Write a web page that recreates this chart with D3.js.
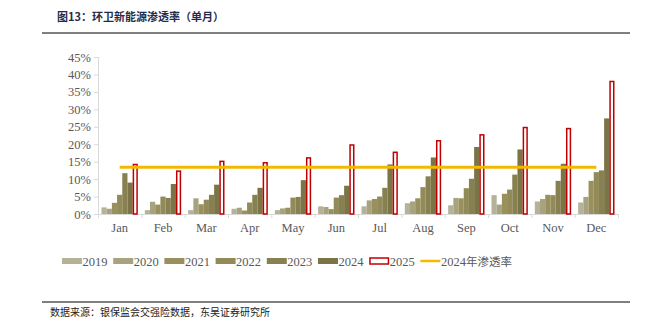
<!DOCTYPE html>
<html><head><meta charset="utf-8">
<script src="https://cdn.jsdelivr.net/npm/d3@7"></script>
<style>
body{margin:0;background:#fff;}
svg{display:block;}
</style></head>
<body>
<svg id="c" width="671" height="328"></svg>
<script>
const months = ["Jan","Feb","Mar","Apr","May","Jun","Jul","Aug","Sep","Oct","Nov","Dec"];
const years = ["2019","2020","2021","2022","2023","2024","2025"];
const v2019 = [1.9,1.1,1.1,1.5,1.1,2.2,2.2,3.1,2.5,5.4,3.6,3.3];
const v2020 = [1.5,3.5,4.5,1.8,1.6,2.0,3.9,3.6,4.6,2.7,4.3,4.9];
const v2021 = [3.2,2.7,2.8,1.0,1.8,1.4,4.3,4.5,4.5,5.8,5.5,9.5];
const v2022 = [5.5,5.0,4.1,3.3,4.7,4.7,5.0,7.7,7.4,7.0,5.4,12.0];
const v2023 = [11.7,4.6,5.5,5.5,4.9,5.4,7.5,10.8,10.1,11.3,9.5,12.5];
const v2024 = [9.0,8.6,8.4,7.5,9.7,8.1,14.2,16.2,19.2,18.5,14.4,27.4];
const v2025 = [14.4,12.5,15.3,14.9,16.3,20.0,17.9,21.2,22.9,25.0,24.7,38.2];
const rate2024 = 13.4;
const yTicks = [0,5,10,15,20,25,30,35,40,45];
const seriesVals = [v2019,v2020,v2021,v2022,v2023,v2024,v2025];
const colors = ["#b6b29a","#a7a37f","#99905e","#928a59","#878050","#7b7446"];

const svg = d3.select("#c");
const serif = "'Liberation Serif','Times New Roman',serif";
const cjk = "'Noto Sans CJK SC','Noto Sans',sans-serif";

// title
svg.append("text").attr("x",57).attr("y",21).attr("font-family",cjk).attr("font-weight","bold")
  .attr("font-size",11).attr("fill","#1f2d4d").text("图13：环卫新能源渗透率（单月）");
svg.append("line").attr("x1",42).attr("x2",630).attr("y1",33).attr("y2",33).attr("stroke","#000").attr("stroke-width",1.2);
svg.append("line").attr("x1",42).attr("x2",630).attr("y1",302).attr("y2",302).attr("stroke","#000").attr("stroke-width",1.2);
svg.append("text").attr("x",50).attr("y",316).attr("font-family",cjk)
  .attr("font-size",10).attr("fill","#222").text("数据来源：银保监会交强险数据，东吴证券研究所");

const x0 = d3.scaleBand().domain(months).range([98,618]).paddingInner(0).paddingOuter(0);
const x1 = d3.scaleBand().domain(years).range([3.5, x0.bandwidth()-3.5]).padding(0);
const y = d3.scaleLinear().domain([0,45]).range([214,57]);

// y axis
const ya = svg.append("g").attr("transform","translate(98,0)")
  .call(d3.axisLeft(y).tickValues(yTicks).tickFormat(d=>d+"%").tickSize(4));
ya.select(".domain").attr("stroke","#d9d9d9").attr("d","M-4,57.5H0.5V214");
ya.selectAll(".tick line").attr("stroke","#d9d9d9");
ya.selectAll(".tick text").attr("font-family",serif).attr("font-size",12.5).attr("fill","#595959").attr("x",-7);

// x axis
const xa = svg.append("g").attr("transform","translate(0,214)")
  .call(d3.axisBottom(x0).tickSize(0).tickPadding(9));
xa.select(".domain").attr("stroke","#d9d9d9");
xa.selectAll(".tick text").attr("font-family",serif).attr("font-size",12.5).attr("fill","#595959");
months.concat(["end"]).forEach((m,i)=>{
  const xx = i<12 ? x0(m) : x0.range()[1];
  svg.append("line").attr("x1",xx+0.5).attr("x2",xx+0.5).attr("y1",214).attr("y2",218).attr("stroke","#d9d9d9");
});

// bars
years.forEach((yr,si)=>{
  const g = svg.append("g");
  g.selectAll("rect").data(months).join("rect")
    .attr("x",(m)=>x0(m)+x1(yr) + (si===6?0.75:0))
    .attr("width",x1.bandwidth() - (si===6?1.5:0))
    .attr("y",(m,i)=>y(seriesVals[si][i]) + (si===6?0.75:0))
    .attr("height",(m,i)=>214-y(seriesVals[si][i]) - (si===6?0.75:0))
    .attr("fill", si<6 ? colors[si] : "#fff")
    .attr("stroke", si<6 ? "none" : "#c00000")
    .attr("stroke-width", si<6 ? 0 : 1.5);
});

// 2024 rate line
svg.append("line")
  .attr("x1",x0("Jan")+x0.bandwidth()/2).attr("x2",x0("Dec")+x0.bandwidth()/2)
  .attr("y1",y(rate2024)).attr("y2",y(rate2024))
  .attr("stroke","#f5b800").attr("stroke-width",3);

// legend
const legendLabels = years.concat(["2024年渗透率"]);
legendLabels.forEach((lab,i)=>{
  const lx = 62 + i*51.2;
  const ly = 261;
  if(i<6){
    svg.append("rect").attr("x",lx).attr("y",ly-3).attr("width",20).attr("height",6).attr("fill",colors[i]);
  } else if(i===6){
    svg.append("rect").attr("x",lx+0.75).attr("y",ly-3).attr("width",18.5).attr("height",6).attr("fill","#fff").attr("stroke","#c00000").attr("stroke-width",1.5);
  } else {
    svg.append("line").attr("x1",lx).attr("x2",lx+20).attr("y1",ly).attr("y2",ly).attr("stroke","#f5b800").attr("stroke-width",2.5);
  }
  const t = svg.append("text").attr("x",lx+20.5).attr("y",ly+4.5).attr("font-size",12.5).attr("fill","#595959");
  if(i<7){ t.attr("font-family",serif).text(lab); }
  else {
    t.append("tspan").attr("font-family",serif).text("2024");
    t.append("tspan").attr("font-family",cjk).attr("font-size",11.5).text("年渗透率");
  }
});
</script>
</body></html>
